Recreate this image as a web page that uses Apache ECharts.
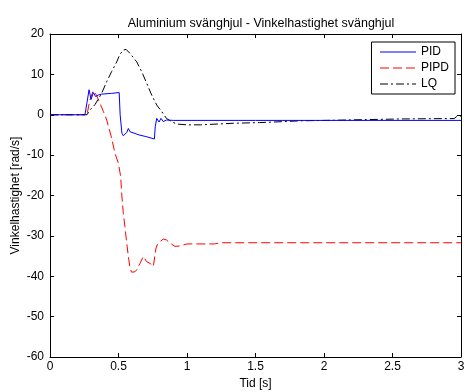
<!DOCTYPE html>
<html>
<head>
<meta charset="utf-8">
<script src="https://cdn.jsdelivr.net/npm/echarts@6/dist/echarts.min.js"></script>
<style>
html,body{margin:0;padding:0;background:#fff;}
#chart{width:465px;height:392px;}
</style>
</head>
<body>
<div id="chart"></div>
<script>
const titleText = 'Aluminium svänghjul - Vinkelhastighet svänghjul';
const xLabel = 'Tid [s]';
const yLabel = 'Vinkelhastighet [rad/s]';
const seriesNames = ['PID', 'PIPD', 'LQ'];

const pidT = [0, 0.255, 0.27, 0.285, 0.30, 0.316, 0.333, 0.353, 0.377, 0.45, 0.505, 0.512, 0.525, 0.535, 0.56, 0.572, 0.584, 0.596, 0.65, 0.70, 0.762, 0.768, 0.779, 0.79, 0.796, 0.81, 0.827, 0.85, 0.9, 1.5, 3.0];
const pidY = [0, 0, 3, 6.2, 3.8, 5.5, 4.5, 4.9, 5.1, 5.3, 5.5, 0, -4.6, -5.2, -4.4, -3.4, -4.2, -4.6, -5.0, -5.4, -6.0, -3, -0.9, -1.2, -1.8, -0.9, -1.7, -1.3, -1.4, -1.4, -1.4];

const pipdT = [0, 0.27, 0.29, 0.316, 0.34, 0.365, 0.39, 0.414, 0.45, 0.474, 0.499, 0.516, 0.523, 0.535, 0.547, 0.56, 0.572, 0.584, 0.596, 0.608, 0.62, 0.633, 0.657, 0.681, 0.694, 0.706, 0.73, 0.754, 0.766, 0.774, 0.783, 0.79, 0.803, 0.827, 0.85, 0.876, 0.912, 0.949, 1.0, 1.2, 1.25, 3.0];
const pipdY = [0, 0, 3.5, 6.0, 4.8, 2.8, 0.8, -1.3, -5.8, -9.5, -12, -15.3, -19.4, -24.4, -27.7, -31.8, -35.1, -38, -39, -39.2, -38.9, -38.4, -36.8, -35.1, -35.5, -36.4, -36.8, -37.6, -37.2, -33, -32.2, -32.6, -31.4, -30.8, -31, -31.8, -32.6, -32.5, -32, -32, -31.7, -31.7];

const lqT = [0, 0.27, 0.292, 0.328, 0.377, 0.414, 0.45, 0.487, 0.511, 0.535, 0.555, 0.584, 0.633, 0.669, 0.706, 0.742, 0.779, 0.815, 0.85, 0.888, 0.925, 1.0, 1.1, 1.34, 1.53, 1.7, 1.83, 2.07, 2.31, 2.55, 2.8, 2.95, 2.97, 3.0];
const lqY = [0, 0, 1.2, 2.5, 5.3, 8.2, 10.7, 13.1, 15, 16, 16.2, 15.2, 13.1, 10.7, 7.8, 4.9, 2.4, 0.8, -0.9, -1.7, -2.3, -2.5, -2.5, -2.1, -1.95, -1.7, -1.5, -1.36, -1.2, -1.05, -0.97, -0.95, -0.4, -0.3];

const xTicks = {min: 0, max: 3, interval: 0.5};
const yTicks = {min: -60, max: 20, interval: 10};

function pairs(t, y) { return t.map((v, i) => [v, y[i]]); }

const font = 'Liberation Sans, Arial, sans-serif';
const axisCommon = {
  axisLine: {show: true, onZero: false, lineStyle: {color: '#000', width: 1}},
  axisTick: {show: true, inside: true, length: 4, lineStyle: {color: '#000'}},
  splitLine: {show: false},
};

const chart = echarts.init(document.getElementById('chart'), null, {renderer: 'canvas'});
chart.setOption({
  animation: false,
  backgroundColor: '#fff',
  title: {
    text: titleText, left: 256, top: 12, textAlign: 'center',
    textStyle: {fontFamily: font, fontSize: 12.5, fontWeight: 'normal', color: '#000'}
  },
  grid: {left: 50, right: 4, top: 34, bottom: 35, containLabel: false, outerBoundsMode: 'none'},
  legend: {
    data: seriesNames, orient: 'vertical', right: 10, top: 42,
    itemWidth: 36, itemHeight: 14, itemGap: 4,
    padding: [4, 6, 4, 8], borderColor: '#000', borderWidth: 1, backgroundColor: '#fff',
    itemStyle: {opacity: 0},
    lineStyle: {width: 1},
    textStyle: {fontFamily: font, fontSize: 12, color: '#000'}
  },
  xAxis: [
    Object.assign({type: 'value', min: xTicks.min, max: xTicks.max, interval: xTicks.interval,
      name: xLabel, nameLocation: 'middle', nameGap: 21, nameMoveOverlap: false,
      nameTextStyle: {fontFamily: font, fontSize: 12, color: '#000'},
      axisLabel: {fontFamily: font, fontSize: 12, color: '#000', margin: 4}}, axisCommon),
    Object.assign({type: 'value', position: 'top', min: xTicks.min, max: xTicks.max, interval: xTicks.interval,
      axisLabel: {show: false}}, axisCommon)
  ],
  yAxis: [
    Object.assign({type: 'value', min: yTicks.min, max: yTicks.max, interval: yTicks.interval,
      name: yLabel, nameLocation: 'middle', nameGap: 28, nameMoveOverlap: false,
      nameTextStyle: {fontFamily: font, fontSize: 12, color: '#000'},
      axisLabel: {fontFamily: font, fontSize: 12, color: '#000', margin: 6}}, axisCommon),
    Object.assign({type: 'value', position: 'right', min: yTicks.min, max: yTicks.max, interval: yTicks.interval,
      axisLabel: {show: false}}, axisCommon)
  ],
  series: [
    {name: seriesNames[0], type: 'line', data: pairs(pidT, pidY), showSymbol: false, symbol: 'none',
     lineStyle: {color: '#0000ff', width: 1}, itemStyle: {color: '#0000ff'}, z: 3},
    {name: seriesNames[1], type: 'line', data: pairs(pipdT, pipdY), showSymbol: false, symbol: 'none',
     lineStyle: {color: '#ff0000', width: 1, type: [9, 4]}, itemStyle: {color: '#ff0000'}, z: 2},
    {name: seriesNames[2], type: 'line', data: pairs(lqT, lqY), showSymbol: false, symbol: 'none',
     lineStyle: {color: '#000000', width: 1, type: [8, 3, 2, 3]}, itemStyle: {color: '#000'}, z: 2}
  ]
});
</script>
</body>
</html>
